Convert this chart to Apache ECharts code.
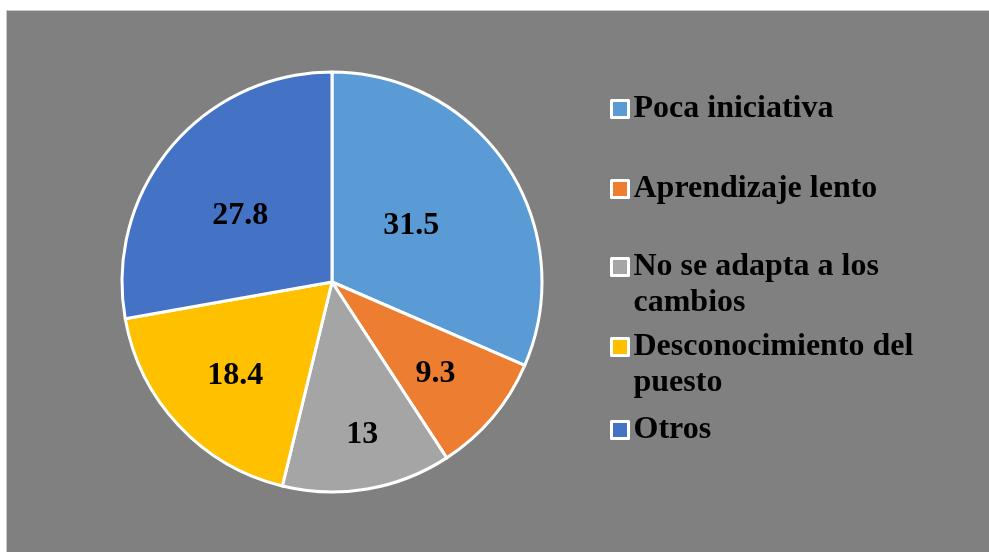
<!DOCTYPE html>
<html>
<head>
<meta charset="utf-8">
<script src="https://cdn.jsdelivr.net/npm/echarts@6/dist/echarts.min.js"></script>
<style>
  html, body { margin: 0; padding: 0; background: #ffffff; }
  #bg { position: absolute; left: 6px; top: 10px; width: 983px; height: 542px; background: #808080; border-left: 1px solid #c8c8c8; border-top: 1px solid #c8c8c8; box-sizing: border-box; }
  #chart { position: absolute; left: 0; top: 0; width: 989px; height: 552px; }
</style>
</head>
<body>
<div id="bg"></div>
<div id="chart"></div>
<script>
  // datos del gráfico
  var categorias = ['Poca iniciativa', 'Aprendizaje lento', 'No se adapta a los cambios', 'Desconocimiento del puesto', 'Otros'];
  var valores = [31.5, 9.3, 13, 18.4, 27.8];
  var colores = ['#5B9BD5', '#ED7D31', '#A5A5A5', '#FFC000', '#4472C4'];

  // ajuste de la etiqueta dentro de cada sector (como en Excel)
  var etiquetaOffset = [[-11, 3], [21, 22], [12, 46], [-18, 20], [-9, 3]];
  // posición vertical de cada entrada de la leyenda
  var leyendaTop = [91, 171, 213, 293, 412];
  var dosLineas = [false, false, true, true, false];

  var fuente = 'Liberation Serif, Times New Roman, serif';

  var pieData = [];
  for (var i = 0; i < categorias.length; i++) {
    pieData.push({
      name: categorias[i],
      value: valores[i],
      itemStyle: { color: colores[i] },
      label: { offset: etiquetaOffset[i] }
    });
  }

  var leyendas = [];
  for (var j = 0; j < categorias.length; j++) {
    leyendas.push({
      data: [categorias[j]],
      left: 610,
      top: leyendaTop[j],
      padding: 0,
      icon: 'rect',
      itemWidth: 17,
      itemHeight: 17,
      itemStyle: { borderColor: '#ffffff', borderWidth: 3 },
      selectedMode: false,
      // línea en blanco delante para que el cuadrado quede junto a la primera línea
      formatter: dosLineas[j] ? function (name) { return '\n' + name; } : '{name}',
      textStyle: {
        color: '#000000',
        fontFamily: fuente,
        fontWeight: 'bold',
        fontSize: 32,
        lineHeight: 36,
        width: 300,
        overflow: 'break'
      }
    });
  }

  var myChart = echarts.init(document.getElementById('chart'));
  myChart.setOption({
    animation: false,
    legend: leyendas,
    series: [
      {
        type: 'pie',
        center: [332, 282],
        radius: 210,
        startAngle: 90,
        clockwise: true,
        emphasis: { disabled: true },
        itemStyle: { borderColor: '#ffffff', borderWidth: 3 },
        label: {
          show: true,
          position: 'inside',
          formatter: '{c}',
          color: '#000000',
          fontFamily: fuente,
          fontWeight: 'bold',
          fontSize: 32
        },
        labelLine: { show: false },
        data: pieData
      }
    ]
  });
</script>
</body>
</html>
